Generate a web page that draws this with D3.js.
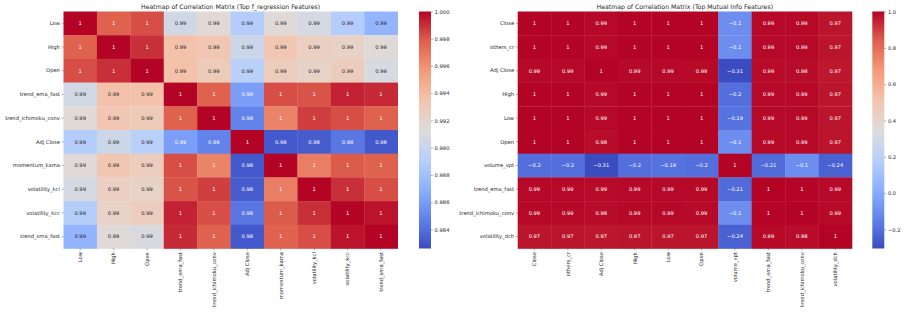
<!DOCTYPE html>
<html>
<head>
<meta charset="utf-8">
<script src="https://cdn.jsdelivr.net/npm/d3@7"></script>
<style>
  body { margin: 0; background: #fff; }
  text { font-family: "DejaVu Sans", sans-serif; }
</style>
</head>
<body>
<svg id="chart" width="904" height="313"></svg>
<script>
// ---- data ----
const leftTitle = "Heatmap of Correlation Matrix (Top f_regression Features)";
const leftLabels = ["Low", "High", "Open", "trend_ema_fast", "trend_ichimoku_conv", "Adj Close",
    "momentum_kama", "volatility_kcl", "volatility_kcc", "trend_sma_fast"];
const leftValues = [
    [1.0,     0.99774, 0.99826, 0.9906,  0.9916,  0.9889, 0.9915,  0.9908,  0.9889,  0.9873],
    [0.99774, 1.0,     0.99896, 0.9936,  0.9932,  0.9903, 0.9932,  0.9925,  0.9923,  0.9915],
    [0.99826, 0.99896, 1.0,     0.9936,  0.9929,  0.9892, 0.9927,  0.9922,  0.9927,  0.9910],
    [0.9906,  0.9936,  0.9936,  1.0,     0.99774, 0.9861, 0.99826, 0.99810, 0.9993,  0.99913],
    [0.9916,  0.9932,  0.9929,  0.99774, 1.0,     0.9848, 0.99652, 0.9986,  0.99826, 0.99774],
    [0.9889,  0.9903,  0.9892,  0.9861,  0.9848,  1.0,    0.9831,  0.9833,  0.9843,  0.9831],
    [0.9915,  0.9932,  0.9927,  0.99826, 0.99652, 0.9831, 1.0,     0.99669, 0.99791, 0.99774],
    [0.9908,  0.9925,  0.9922,  0.99810, 0.9986,  0.9833, 0.99669, 1.0,     0.99896, 0.99826],
    [0.9889,  0.9923,  0.9927,  0.9993,  0.99826, 0.9843, 0.99791, 0.99896, 1.0,     0.99965],
    [0.9873,  0.9915,  0.9910,  0.99913, 0.99774, 0.9831, 0.99774, 0.99826, 0.99965, 1.0]
];
const leftRange = [0.9826, 1.0];
const leftTicks = [1.000, 0.998, 0.996, 0.994, 0.992, 0.990, 0.988, 0.986, 0.984];

const rightTitle = "Heatmap of Correlation Matrix (Top Mutual Info Features)";
const rightLabels = ["Close", "others_cr", "Adj Close", "High", "Low", "Open", "volume_vpt",
    "trend_ema_fast", "trend_ichimoku_conv", "volatility_dch"];
const rightValues = [
    [1.0,    0.9999, 0.993,  0.9998, 0.9998, 0.9996, -0.1,  0.993, 0.991, 0.972],
    [0.9999, 1.0,    0.993,  0.9997, 0.9997, 0.9995, -0.1,  0.993, 0.991, 0.972],
    [0.993,  0.993,  1.0,    0.993,  0.993,  0.989,  -0.31, 0.988, 0.984, 0.966],
    [0.9998, 0.9997, 0.993,  1.0,    0.9995, 0.9997, -0.2,  0.993, 0.991, 0.972],
    [0.9998, 0.9997, 0.993,  0.9995, 1.0,    0.9997, -0.19, 0.993, 0.991, 0.972],
    [0.9996, 0.9995, 0.984,  0.9997, 0.9997, 1.0,    -0.1,  0.992, 0.990, 0.971],
    [-0.2,   -0.2,   -0.31,  -0.2,   -0.19,  -0.2,   1.0,   -0.21, -0.1,  -0.24],
    [0.993,  0.993,  0.988,  0.993,  0.993,  0.992,  -0.21, 1.0,   0.998, 0.990],
    [0.991,  0.991,  0.984,  0.991,  0.991,  0.990,  -0.1,  0.998, 1.0,   0.990],
    [0.972,  0.972,  0.966,  0.972,  0.972,  0.971,  -0.24, 0.990, 0.984, 1.0]
];
const rightRange = [-0.305, 1.0];
const rightTicks = [1.0, 0.8, 0.6, 0.4, 0.2, 0.0, -0.2];

// matplotlib "coolwarm" sampled at 9 stops
const coolwarm = ["#3a4cc0", "#6282ea", "#8db0fe", "#b8d0f9", "#dddcdb",
    "#f4c4ad", "#f49a7b", "#de604d", "#b40426"];

const svg = d3.select("#chart");

function textColor(c) {
    const rgb = d3.rgb(c);
    const lin = v => { v /= 255; return v <= 0.03928 ? v / 12.92 : Math.pow((v + 0.055) / 1.055, 2.4); };
    const lum = 0.2126 * lin(rgb.r) + 0.7152 * lin(rgb.g) + 0.0722 * lin(rgb.b);
    return lum > 0.408 ? "#262626" : "#ffffff";
}

function drawHeatmap(cfg) {
    const { labels, values, range, ticks, title, left, right, top, bottom, cbX, tickFmt } = cfg;
    const g = svg.append("g");

    const x = d3.scaleBand().domain(labels).range([left, right]);
    const y = d3.scaleBand().domain(labels).range([top, bottom]);

    const stops = d3.range(coolwarm.length).map(i => range[0] + (range[1] - range[0]) * i / (coolwarm.length - 1));
    const color = d3.scaleLinear().domain(stops).range(coolwarm).interpolate(d3.interpolateRgb).clamp(true);

    const cells = [];
    values.forEach((row, i) => row.forEach((v, j) => cells.push({ r: labels[i], c: labels[j], v })));

    g.selectAll("rect.cell").data(cells).join("rect")
        .attr("class", "cell")
        .attr("x", d => x(d.c))
        .attr("y", d => y(d.r))
        .attr("width", x.bandwidth() + 0.3)
        .attr("height", y.bandwidth() + 0.3)
        .attr("fill", d => color(d.v));

    const fmt = d3.format(".2~g");
    g.selectAll("text.ann").data(cells).join("text")
        .attr("class", "ann")
        .attr("x", d => x(d.c) + x.bandwidth() / 2)
        .attr("y", d => y(d.r) + y.bandwidth() / 2)
        .attr("dy", "0.35em")
        .attr("text-anchor", "middle")
        .attr("font-size", 5.2)
        .attr("fill", d => textColor(color(d.v)))
        .text(d => fmt(d.v).replace("-", "\u2212"));

    // axes
    const yAxis = g.append("g").attr("transform", `translate(${left},0)`)
        .call(d3.axisLeft(y).tickSize(1.8).tickPadding(1.8));
    yAxis.select(".domain").remove();
    yAxis.selectAll("text").attr("font-size", 5.2).attr("fill", "#262626").attr("font-family", "DejaVu Sans");
    yAxis.selectAll("line").attr("stroke", "#262626").attr("stroke-width", 0.4);

    const xAxis = g.append("g").attr("transform", `translate(0,${bottom})`)
        .call(d3.axisBottom(x).tickSize(1.8).tickPadding(1.8));
    xAxis.select(".domain").remove();
    xAxis.selectAll("line").attr("stroke", "#262626").attr("stroke-width", 0.4);
    xAxis.selectAll("text")
        .attr("font-size", 5.2).attr("fill", "#262626").attr("font-family", "DejaVu Sans")
        .attr("transform", "rotate(-90)")
        .attr("text-anchor", "end")
        .attr("x", -3.6)
        .attr("y", 0)
        .attr("dy", "0.35em");

    g.append("text")
        .attr("x", (left + right) / 2)
        .attr("y", top - 3)
        .attr("text-anchor", "middle")
        .attr("font-size", 6.2)
        .attr("fill", "#262626")
        .text(title);

    // colorbar
    const gradId = "grad" + Math.round(cbX);
    const grad = svg.append("defs").append("linearGradient")
        .attr("id", gradId).attr("x1", 0).attr("y1", 1).attr("x2", 0).attr("y2", 0);
    coolwarm.forEach((c, i) => grad.append("stop")
        .attr("offset", i / (coolwarm.length - 1)).attr("stop-color", c));

    const cbW = 12;
    g.append("rect")
        .attr("x", cbX).attr("y", top)
        .attr("width", cbW).attr("height", bottom - top)
        .attr("fill", `url(#${gradId})`);

    const cy = d3.scaleLinear().domain(range).range([bottom, top]);
    const cAxis = g.append("g").attr("transform", `translate(${cbX + cbW},0)`)
        .call(d3.axisRight(cy).tickValues(ticks).tickSize(1.8).tickPadding(1.8)
            .tickFormat(d => d3.format(tickFmt)(d).replace("-", "\u2212")));
    cAxis.select(".domain").remove();
    cAxis.selectAll("line").attr("stroke", "#262626").attr("stroke-width", 0.4);
    cAxis.selectAll("text").attr("font-size", 5.2).attr("fill", "#262626").attr("font-family", "DejaVu Sans");
}

drawHeatmap({
    labels: leftLabels, values: leftValues, range: leftRange, ticks: leftTicks, title: leftTitle,
    left: 63.5, right: 397.7, top: 11.5, bottom: 248.5, cbX: 419, tickFmt: ".3f"
});

drawHeatmap({
    labels: rightLabels, values: rightValues, range: rightRange, ticks: rightTicks, title: rightTitle,
    left: 517.7, right: 852, top: 11.5, bottom: 248.5, cbX: 872.3, tickFmt: ".1f"
});
</script>
</body>
</html>
